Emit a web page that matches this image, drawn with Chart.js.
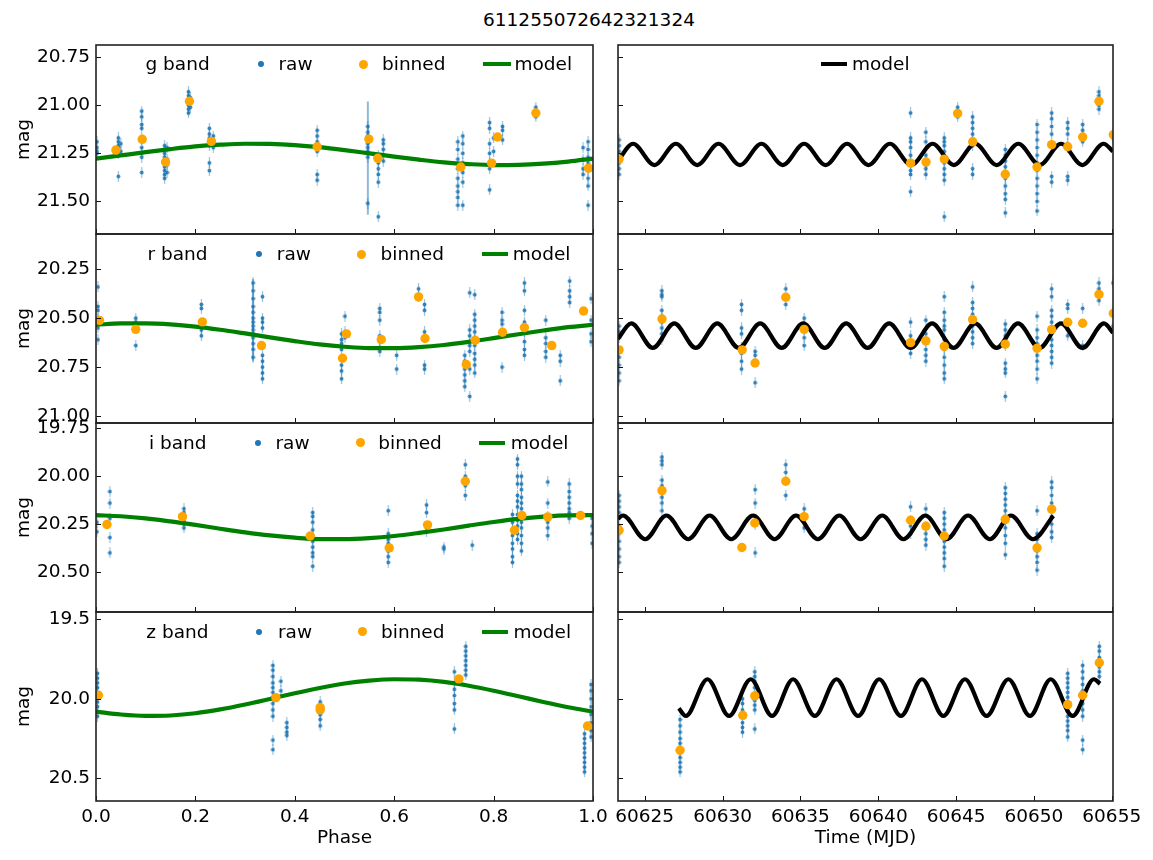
<!DOCTYPE html>
<html><head><meta charset="utf-8">
<script src="https://cdn.jsdelivr.net/npm/chart.js@4.4.1/dist/chart.umd.min.js"></script>
<style>
html,body{margin:0;padding:0;background:#fff;}
#wrap{position:relative;width:1153px;height:860px;overflow:hidden;font-family:"DejaVu Sans",sans-serif;background:#fff;}
.cv{position:absolute;}
.t{position:absolute;white-space:nowrap;font-size:18.5px;line-height:22px;color:#000;z-index:5;}
.dot{position:absolute;border-radius:50%;z-index:5;}
.ln{position:absolute;z-index:5;}
</style></head><body><div id="wrap"></div>
<script>
// ---------------- DATA ----------------
const chartTitle = "611255072642321324";
const bands = ["g band", "r band", "i band", "z band"];
const phaseTicks = [0.0, 0.2, 0.4, 0.6, 0.8, 1.0];
const mjdTicks = [60625, 60630, 60635, 60640, 60645, 60650, 60655];
const magTicksG = [20.75, 21.00, 21.25, 21.50];
const magTicksR = [20.25, 20.50, 20.75, 21.00];
const magTicksI = [19.75, 20.00, 20.25, 20.50];
const magTicksZ = [19.5, 20.0, 20.5];

// raw photometry: [x, [mags...]]
const rawPhaseG = [[0.002,[21.19,21.22,21.24,21.25]],[0.045,[21.17,21.19,21.21,21.22,21.23,21.25,21.37]],[0.050,[21.20,21.24]],
 [0.092,[21.03,21.06,21.10,21.12,21.18,21.22,21.25,21.27,21.35]],[0.138,[21.21,21.23,21.25,21.27,21.30,21.32,21.34,21.36,21.38]],
 [0.143,[21.22,21.28,21.31,21.35]],[0.186,[20.93,20.95,20.97,21.00,21.02,21.04]],[0.190,[20.96,21.01]],
 [0.228,[21.12,21.15,21.17,21.21,21.30,21.34]],[0.236,[21.16,21.18,21.20,21.22]],[0.445,[21.13,21.16,21.19,21.22,21.24,21.36,21.39]],
 [0.547,[21.11,21.14,21.16,21.18,21.20,21.22,21.24,21.27,21.51]],[0.568,[21.26,21.30,21.33,21.36,21.40,21.58]],[0.578,[21.18,21.20,21.23,21.26,21.29]],
 [0.728,[21.19,21.23,21.28,21.33,21.38,21.42,21.45,21.48,21.52]],[0.738,[21.16,21.20,21.25,21.30,21.35,21.40,21.52]],
 [0.792,[21.09,21.12,21.20,21.25,21.30,21.33,21.44]],[0.800,[21.17,21.24]],[0.818,[21.11,21.13,21.18]],[0.885,[21.01,21.04,21.06]],
 [0.980,[21.22,21.28,21.33,21.36]],[0.990,[21.19,21.23,21.27,21.30,21.34,21.38,21.42,21.52]]];
const rawTimeG = [[60623.35,[21.18,21.21,21.24,21.27,21.30,21.33,21.36]],[60642.08,[21.04,21.17,21.19,21.22,21.26,21.29,21.31,21.34,21.36,21.45]],
 [60643.06,[21.14,21.19,21.26,21.29,21.31,21.33,21.36]],[60644.24,[21.17,21.19,21.21,21.24,21.27,21.30,21.33,21.36,21.39,21.58]],
 [60645.10,[21.01,21.03,21.06]],[60646.06,[21.06,21.09,21.12,21.15,21.18,21.21,21.33,21.36]],
 [60648.16,[21.23,21.26,21.29,21.32,21.35,21.38,21.42,21.46,21.49,21.56]],[60650.20,[21.10,21.14,21.18,21.22,21.26,21.30,21.34,21.38,21.42,21.46,21.50,21.55]],
 [60651.14,[21.04,21.07,21.11,21.15,21.21,21.37,21.40]],[60652.17,[21.09,21.12,21.15,21.20,21.22,21.37,21.39]],
 [60653.13,[21.10,21.13,21.16,21.19]],[60654.18,[20.93,20.95,20.97,21.00,21.02]],[60655.08,[21.14,21.17]]];
const rawPhaseR = [[0.004,[20.34,20.44,20.46,20.50,20.52,20.55,20.61]],[0.080,[20.50,20.52,20.64]],[0.212,[20.43,20.45,20.54,20.56,20.59]],
 [0.316,[20.32,20.36,20.40,20.44,20.47,20.50,20.52,20.54,20.56,20.58,20.60,20.63,20.66,20.70]],[0.335,[20.39,20.50,20.52,20.55,20.69,20.72,20.75,20.78,20.81]],
 [0.494,[20.58,20.61,20.63,20.66,20.74,20.77,20.81]],[0.501,[20.49,20.57,20.60]],[0.571,[20.45,20.47,20.51,20.59,20.62,20.65,20.67]],
 [0.605,[20.69,20.76]],[0.649,[20.35,20.39]],[0.661,[20.43,20.46,20.57,20.60,20.74,20.76]],[0.742,[20.69,20.72,20.76,20.79,20.82,20.85]],
 [0.752,[20.37,20.56,20.59,20.62,20.64,20.67,20.76,20.90]],[0.762,[20.38,20.48,20.51,20.54,20.57,20.60,20.64,20.68,20.71,20.74,20.78]],
 [0.817,[20.47,20.51,20.53,20.75]],[0.862,[20.32,20.36,20.46,20.52,20.57,20.62,20.66,20.69]],[0.905,[20.51,20.60,20.63,20.67,20.70]],
 [0.934,[20.69,20.72,20.82]],[0.953,[20.31,20.36,20.39,20.42]],[0.996,[20.40,20.51,20.58,20.62]]];
const rawTimeR = [[60623.35,[20.54,20.57,20.60,20.67,20.70,20.74,20.78,20.82]],[60626.10,[20.36,20.38,20.39,20.46,20.49,20.52,20.55,20.58,20.61]],
 [60631.22,[20.43,20.46,20.55,20.58,20.65,20.68,20.72,20.76]],[60632.09,[20.67,20.69,20.83]],[60634.06,[20.35,20.43]],
 [60635.24,[20.50,20.53,20.56,20.60,20.64]],[60642.08,[20.52,20.59,20.62,20.65,20.68]],[60643.06,[20.51,20.58,20.62,20.66,20.69,20.72]],
 [60644.24,[20.39,20.47,20.51,20.54,20.56,20.61,20.66,20.70,20.74,20.78,20.81]],[60646.06,[20.34,20.42,20.45,20.48,20.51,20.54,20.57,20.60,20.63]],
 [60648.16,[20.53,20.56,20.59,20.62,20.64,20.73,20.76,20.78,20.90]],[60650.20,[20.49,20.56,20.60,20.63,20.66,20.69,20.72,20.76,20.81]],
 [60651.14,[20.35,20.39,20.46,20.49,20.52,20.55,20.61,20.64,20.67,20.70,20.73]],[60652.17,[20.43,20.45,20.53,20.56,20.59]],
 [60653.13,[20.45,20.64]],[60654.18,[20.32,20.35,20.38,20.41]],[60655.08,[20.32,20.47,20.54]]];
const rawPhaseI = [[0.002,[20.24,20.29]],[0.028,[20.08,20.14,20.22,20.32,20.40]],[0.177,[20.17,20.19,20.21,20.23,20.25,20.27]],
 [0.436,[20.19,20.21,20.24,20.28,20.31,20.34,20.37,20.40,20.42,20.47]],[0.588,[20.18,20.30,20.33,20.35,20.37,20.39,20.42,20.45]],
 [0.665,[20.15,20.19,20.27,20.29]],[0.700,[20.37,20.38]],[0.743,[19.94,20.00,20.03,20.05,20.10]],[0.757,[20.36]],
 [0.838,[20.20,20.24,20.28,20.31,20.35,20.38,20.42,20.45]],[0.848,[19.91,19.94,20.00,20.04,20.10,20.13,20.16,20.20,20.23,20.26,20.30,20.33]],
 [0.856,[20.00,20.04,20.07,20.11,20.14,20.17,20.21,20.24,20.27,20.31,20.35,20.39]],[0.909,[20.03,20.14,20.21,20.24,20.27,20.31]],
 [0.952,[20.04,20.08,20.11,20.14,20.17,20.19,20.22]],[0.998,[20.22,20.26,20.30,20.35]]];
const rawTimeI = [[60623.35,[20.10,20.13,20.16,20.19,20.26,20.30,20.34,20.38,20.42,20.45]],[60626.11,[19.90,19.92,19.94,20.02,20.05,20.08,20.11,20.14,20.18]],
 [60632.09,[20.07,20.14,20.25,20.40]],[60634.06,[19.94,19.98,20.10]],[60635.24,[20.17,20.20,20.27]],[60642.08,[20.16,20.23,20.26,20.30]],
 [60643.06,[20.17,20.26,20.30,20.33,20.36]],[60644.24,[20.19,20.22,20.25,20.28,20.31,20.34,20.37,20.40,20.43,20.47]],
 [60648.16,[20.06,20.09,20.12,20.15,20.18,20.21,20.24,20.27,20.31,20.35,20.41]],[60650.20,[20.18,20.30,20.33,20.36,20.39,20.42,20.45,20.49]],
 [60651.14,[20.03,20.06,20.10,20.14,20.18,20.21,20.25,20.29,20.32]]];
const rawPhaseZ = [[0.003,[19.84,19.87,19.90,19.93,19.96,19.99,20.02,20.05,20.08,20.11]],
 [0.356,[19.79,19.82,19.86,19.90,19.93,19.96,19.99,20.03,20.07,20.11,20.26,20.32]],[0.372,[19.89,19.95]],[0.384,[20.15,20.18,20.21,20.23]],
 [0.451,[20.02,20.04,20.06,20.08,20.10,20.13,20.17]],[0.721,[19.83,19.90,19.94,19.98,20.03,20.07,20.19]],[0.744,[19.67,19.70,19.73,19.76,19.79,19.82,19.85]],
 [0.983,[20.22,20.25,20.28,20.31,20.34,20.37,20.40,20.43,20.46]],[0.996,[19.91,19.95,20.00,20.05,20.10,20.15,20.20,20.24]]];
const rawTimeZ = [[60627.27,[20.13,20.17,20.21,20.25,20.28,20.31,20.34,20.37,20.40,20.43,20.46]],[60631.28,[20.00,20.03,20.07,20.15,20.18,20.21]],
 [60632.07,[19.83,19.86,19.89,19.93,19.97,20.01,20.04,20.07,20.19]],[60652.17,[19.84,19.87,19.90,19.93,19.96,19.99,20.02,20.05,20.08,20.11,20.14,20.17,20.20,20.24]],
 [60653.13,[19.79,19.83,19.87,19.91,19.95,19.99,20.03,20.07,20.11,20.26,20.32]],[60654.20,[19.67,19.70,19.74,19.77,19.80,19.83,19.86]]];

// long error bars: [x, low, high]
const errPhaseG = [[0.547, 20.98, 21.57]];
const errPhaseR = [[0.316, 20.30, 20.72]];
const errBinPhaseG = [[0.549, 21.155, 21.20]];

// binned points: [x, mag]
const binPhaseG = [[0.040,21.233],[0.093,21.177],[0.140,21.295],[0.188,20.979],[0.232,21.188],[0.445,21.216],[0.549,21.176],[0.567,21.276],[0.734,21.321],[0.796,21.301],[0.808,21.165],[0.885,21.040],[0.991,21.327]];
const binTimeG = [[60623.35,21.280],[60642.08,21.301],[60643.07,21.295],[60644.24,21.280],[60645.10,21.042],[60646.07,21.190],[60648.16,21.359],[60650.20,21.321],[60651.14,21.205],[60652.17,21.216],[60653.13,21.165],[60654.18,20.979],[60655.10,21.153]];
const binPhaseR = [[0.007,20.511],[0.080,20.557],[0.214,20.519],[0.333,20.640],[0.496,20.705],[0.504,20.580],[0.574,20.609],[0.649,20.391],[0.662,20.604],[0.745,20.737],[0.763,20.613],[0.818,20.572],[0.862,20.548],[0.917,20.640],[0.981,20.463]];
const binTimeR = [[60623.35,20.662],[60626.11,20.504],[60631.26,20.662],[60632.09,20.729],[60634.06,20.393],[60635.24,20.557],[60642.08,20.625],[60643.06,20.616],[60644.24,20.644],[60646.06,20.507],[60648.16,20.633],[60650.20,20.654],[60651.14,20.558],[60652.17,20.521],[60653.13,20.526],[60654.18,20.378],[60655.10,20.475]];
const binPhaseI = [[0.022,20.252],[0.174,20.211],[0.431,20.312],[0.590,20.374],[0.667,20.254],[0.743,20.026],[0.842,20.282],[0.857,20.205],[0.909,20.212],[0.975,20.205]];
const binTimeI = [[60623.35,20.282],[60626.11,20.075],[60631.24,20.372],[60632.07,20.244],[60634.06,20.026],[60635.24,20.211],[60642.08,20.230],[60643.06,20.261],[60644.24,20.312],[60648.16,20.225],[60650.20,20.374],[60651.14,20.172]];
const binPhaseZ = [[0.005,19.978],[0.362,19.993],[0.451,20.054],[0.451,20.070],[0.730,19.875],[0.989,20.171]];
const binTimeZ = [[60627.27,20.324],[60631.30,20.104],[60632.07,19.982],[60652.17,20.037],[60653.13,19.978],[60654.20,19.773]];

// model curves
const modelPhase = [0,0.05,0.10,0.15,0.20,0.25,0.30,0.35,0.40,0.45,0.50,0.55,0.60,0.65,0.70,0.75,0.80,0.85,0.90,0.95,1.0];
const modelPhaseG = [21.278,21.261,21.244,21.228,21.214,21.205,21.200,21.201,21.207,21.218,21.233,21.250,21.267,21.283,21.297,21.306,21.311,21.310,21.304,21.293,21.278];
const modelPhaseR = [20.534,20.527,20.527,20.532,20.543,20.559,20.578,20.598,20.617,20.634,20.646,20.653,20.653,20.648,20.637,20.621,20.602,20.582,20.563,20.546,20.534];
const modelPhaseI = [20.2035,20.209,20.220,20.236,20.254,20.274,20.293,20.309,20.321,20.328,20.3285,20.323,20.312,20.296,20.278,20.258,20.239,20.223,20.211,20.204,20.2035];
const modelPhaseZ = [20.081,20.099,20.108,20.105,20.091,20.067,20.036,20.001,19.965,19.932,19.904,19.886,19.877,19.880,19.894,19.918,19.949,19.984,20.020,20.053,20.081];

const modelTimeG_t = [60623.28,60624.25,60625.62,60627.00,60628.37,60629.74,60631.12,60632.50,60633.87,60635.24,60636.62,60638.00,60639.37,60640.75,60642.12,60643.49,60644.86,60646.23,60647.61,60649.00,60650.37,60651.74,60653.11,60654.48,60655.08];
const modelTimeG_m = [21.289,21.200,21.311,21.200,21.311,21.200,21.311,21.200,21.311,21.200,21.311,21.200,21.311,21.200,21.311,21.200,21.311,21.200,21.311,21.200,21.311,21.200,21.311,21.200,21.240];
const modelTimeR_t = [60623.28,60624.14,60625.52,60626.90,60628.28,60629.66,60631.04,60632.42,60633.80,60635.18,60636.56,60637.94,60639.32,60640.70,60642.08,60643.46,60644.84,60646.22,60647.60,60648.98,60650.36,60651.74,60653.12,60654.50,60655.08];
const modelTimeR_m = [20.605,20.527,20.652,20.527,20.652,20.527,20.652,20.527,20.652,20.527,20.652,20.527,20.652,20.527,20.652,20.527,20.652,20.527,20.652,20.527,20.652,20.527,20.652,20.527,20.574];
const modelTimeI_t = [60623.28,60623.60,60625.03,60626.39,60627.79,60629.17,60630.56,60631.96,60633.34,60634.72,60636.12,60637.50,60638.87,60640.26,60641.62,60643.03,60644.39,60645.77,60647.17,60648.52,60649.94,60651.25];
const modelTimeI_m = [20.222,20.205,20.329,20.205,20.329,20.205,20.329,20.205,20.329,20.205,20.329,20.205,20.329,20.205,20.329,20.205,20.329,20.205,20.329,20.205,20.329,20.207];
const modelTimeZ_t = [60627.19,60627.64,60629.03,60630.42,60631.81,60633.18,60634.53,60635.93,60637.32,60638.71,60640.06,60641.46,60642.81,60644.18,60645.57,60646.96,60648.36,60649.75,60651.08,60652.49,60653.85,60654.25];
const modelTimeZ_m = [20.060,20.108,19.877,20.108,19.877,20.108,19.877,20.108,19.877,20.108,19.877,20.108,19.877,20.108,19.877,20.108,19.877,20.108,19.877,20.108,19.877,19.905];

// ---------------- RENDERING ----------------
const wrap = document.getElementById('wrap');
const FONT = '"DejaVu Sans", sans-serif';
const FS = 18.5;
const ROW_TOP = 45, ROW_H = 189, PAD = 14;
const COLS = [{x:0, w:612, plotL:96, plotR:593}, {x:605, w:548, plotL:618, plotR:1113}];

const expand = cl => { const o=[]; cl.forEach(([x,ys]) => ys.forEach(y => o.push({x, y}))); return o; };
const pairs = a => a.map(([x,y]) => ({x, y}));
const zip = (xs, ys) => xs.map((x,i) => ({x, y: ys[i]}));

const rawGlyph = (() => {
  const c = document.createElement('canvas'); c.width = 5; c.height = 11;
  const g = c.getContext('2d');
  g.strokeStyle = 'rgba(31,119,180,0.45)'; g.lineWidth = 1.2;
  g.beginPath(); g.moveTo(2.5,0); g.lineTo(2.5,11); g.stroke();
  g.fillStyle = 'rgba(31,119,180,0.9)';
  g.beginPath(); g.arc(2.5,5.5,1.9,0,Math.PI*2); g.fill();
  return c;
})();

function framePlugin(xt, yt) {
  return { id: 'frame', afterDatasetsDraw(chart) {
    const {ctx, chartArea: a, scales} = chart;
    ctx.save();
    ctx.strokeStyle = '#111'; ctx.lineWidth = 1;
    ctx.beginPath();
    xt.forEach(v => { const p = Math.round(scales.x.getPixelForValue(v)) + 0.5; ctx.moveTo(p, a.bottom); ctx.lineTo(p, a.bottom - 5); });
    yt.forEach(v => { const p = Math.round(scales.y.getPixelForValue(v)) + 0.5; ctx.moveTo(a.left, p); ctx.lineTo(a.left + 5, p); });
    ctx.stroke();
    ctx.strokeStyle = '#222'; ctx.lineWidth = 1.6;
    ctx.strokeRect(a.left, a.top, a.right - a.left, a.bottom - a.top);
    ctx.restore();
  }};
}

function panel(o) {
  const C = COLS[o.col];
  const bottomRow = o.row === 3;
  const top = ROW_TOP + o.row * ROW_H - PAD;
  const h = bottomRow ? (860 - top) : (ROW_H + 2 * PAD);
  const cv = document.createElement('canvas');
  cv.className = 'cv'; cv.width = C.w; cv.height = h;
  cv.style.left = C.x + 'px'; cv.style.top = top + 'px';
  wrap.appendChild(cv);
  const showY = o.col === 0;
  const ds = [];
  o.err.forEach(([x, lo, hi]) => ds.push({type:'line', data:[{x, y:lo},{x, y:hi}], borderColor:'rgba(31,119,180,0.5)', borderWidth:2, pointRadius:0, order:3, clip:0}));
  o.errBin.forEach(([x, lo, hi]) => ds.push({type:'line', data:[{x, y:lo},{x, y:hi}], borderColor:'#111', borderWidth:1.5, pointRadius:0, order:0.5, clip:0}));
  ds.push({label:'raw', data: expand(o.raw), pointStyle: rawGlyph, pointRadius: 3, order: 2, clip: 0});
  ds.push({type:'line', label:'model', data: o.model, borderColor: o.modelColor, borderWidth: 4.2, pointRadius: 0, fill: false, cubicInterpolationMode: 'monotone', order: 1, clip: 0});
  ds.push({label:'binned', data: pairs(o.bin), backgroundColor: '#ffa500', borderWidth: 0, pointRadius: 4.7, order: 0, clip: 0});
  new Chart(cv, {
    type: 'scatter',
    data: { datasets: ds },
    options: {
      responsive: false, animation: false, devicePixelRatio: 1, events: [],
      layout: { padding: { top: PAD, bottom: bottomRow ? 0 : PAD, left: C.plotL - C.x - (showY ? 96 : 0), right: C.x + C.w - C.plotR } },
      plugins: { legend: { display: false }, tooltip: { enabled: false } },
      scales: {
        x: { type: 'linear', min: o.xMin, max: o.xMax, display: bottomRow,
             grid: { display: false, drawTicks: false }, border: { display: false },
             afterBuildTicks: s => { s.ticks = o.xTicks.map(v => ({ value: v })); },
             afterFit: s => { if (bottomRow) s.height = 59; s.paddingLeft = 0; s.paddingRight = 0; },
             ticks: { autoSkip: false, maxRotation: 0, minRotation: 0, padding: 5, color: '#000', font: { family: FONT, size: FS }, callback: o.xFmt },
             title: { display: true, text: o.xTitle, color: '#000', font: { family: FONT, size: FS }, padding: { top: 0, bottom: 11 } } },
        y: { type: 'linear', reverse: true, min: o.yMin, max: o.yMax, display: showY,
             grid: { display: false, drawTicks: false }, border: { display: false },
             afterBuildTicks: s => { s.ticks = o.yTicks.map(v => ({ value: v })); },
             afterFit: s => { if (showY) s.width = 96; s.paddingTop = 0; s.paddingBottom = 0; },
             ticks: { autoSkip: false, padding: 6, color: '#000', font: { family: FONT, size: FS }, callback: o.yFmt },
             title: { display: true, text: 'mag', color: '#000', font: { family: FONT, size: FS }, padding: { top: 13, bottom: 0 } } }
      }
    },
    plugins: [framePlugin(o.xTicks, o.yTicks)]
  });
}

const f2 = v => Number(v).toFixed(2), f1 = v => Number(v).toFixed(1), f0 = v => String(v);
const rows = [
  { yMin: 20.686, yMax: 21.670, yTicks: magTicksG, yFmt: f2, rawP: rawPhaseG, rawT: rawTimeG, binP: binPhaseG, binT: binTimeG, modP: modelPhaseG, modT: zip(modelTimeG_t, modelTimeG_m), errP: errPhaseG, errB: errBinPhaseG },
  { yMin: 20.0695, yMax: 21.036, yTicks: magTicksR, yFmt: f2, rawP: rawPhaseR, rawT: rawTimeR, binP: binPhaseR, binT: binTimeR, modP: modelPhaseR, modT: zip(modelTimeR_t, modelTimeR_m), errP: errPhaseR, errB: [] },
  { yMin: 19.722, yMax: 20.709, yTicks: magTicksI, yFmt: f2, rawP: rawPhaseI, rawT: rawTimeI, binP: binPhaseI, binT: binTimeI, modP: modelPhaseI, modT: zip(modelTimeI_t, modelTimeI_m), errP: [], errB: [] },
  { yMin: 19.454, yMax: 20.643, yTicks: magTicksZ, yFmt: f1, rawP: rawPhaseZ, rawT: rawTimeZ, binP: binPhaseZ, binT: binTimeZ, modP: modelPhaseZ, modT: zip(modelTimeZ_t, modelTimeZ_m), errP: [], errB: [] }
];
rows.forEach((r, i) => {
  panel({ col: 0, row: i, xMin: 0, xMax: 1.0, xTicks: phaseTicks, xFmt: f1, xTitle: 'Phase', yMin: r.yMin, yMax: r.yMax, yTicks: r.yTicks, yFmt: r.yFmt,
          raw: r.rawP, bin: r.binP, model: zip(modelPhase, r.modP), modelColor: '#008000', err: r.errP, errBin: r.errB });
  panel({ col: 1, row: i, xMin: 60623.284, xMax: 60655.08, xTicks: mjdTicks, xFmt: f0, xTitle: 'Time (MJD)', yMin: r.yMin, yMax: r.yMax, yTicks: r.yTicks, yFmt: r.yFmt,
          raw: r.rawT, bin: r.binT, model: r.modT, modelColor: '#000', err: [], errBin: [] });
});

// ---------------- TEXT / LEGENDS ----------------
function text(x, yc, s, center) {
  const d = document.createElement('div'); d.className = 't'; d.textContent = s;
  d.style.left = x + 'px'; d.style.top = (yc - 11) + 'px';
  if (center) d.style.transform = 'translateX(-50%)';
  wrap.appendChild(d); return d;
}
function dot(cx, cy, dia, color) {
  const d = document.createElement('div'); d.className = 'dot';
  d.style.left = (cx - dia/2) + 'px'; d.style.top = (cy - dia/2) + 'px';
  d.style.width = dia + 'px'; d.style.height = dia + 'px'; d.style.background = color;
  wrap.appendChild(d);
}
function hline(x1, x2, cy, color) {
  const d = document.createElement('div'); d.className = 'ln';
  d.style.left = x1 + 'px'; d.style.top = (cy - 2.1) + 'px';
  d.style.width = (x2 - x1) + 'px'; d.style.height = '4.2px'; d.style.background = color;
  wrap.appendChild(d);
}
const t = text(589, 19.5, chartTitle, true);
const leg = [
  { y: 64,    b: 145.5, rd: 260.7, rt: 278.5, bd: 363.3, bt: 382,   l1: 483.3, l2: 510.7, mt: 514.5 },
  { y: 254,   b: 147.5, rd: 259.0, rt: 276.8, bd: 361.7, bt: 380.5, l1: 481.7, l2: 508.0, mt: 512.8 },
  { y: 442.7, b: 149.0, rd: 258.3, rt: 275.5, bd: 360.7, bt: 378.3, l1: 479.3, l2: 505.0, mt: 510.8 },
  { y: 631.7, b: 146.3, rd: 259.3, rt: 278.0, bd: 362.3, bt: 381.0, l1: 482.3, l2: 508.3, mt: 513.5 }
];
leg.forEach((L, i) => {
  text(L.b, L.y, bands[i]);
  dot(L.rd, L.y, 6, '#1f77b4'); text(L.rt, L.y, 'raw');
  dot(L.bd, L.y, 9, '#ffa500'); text(L.bt, L.y, 'binned');
  hline(L.l1, L.l2, L.y, '#008000'); text(L.mt, L.y, 'model');
});
hline(820.7, 846.7, 64, '#000'); text(852, 64, 'model');
</script></body></html>
